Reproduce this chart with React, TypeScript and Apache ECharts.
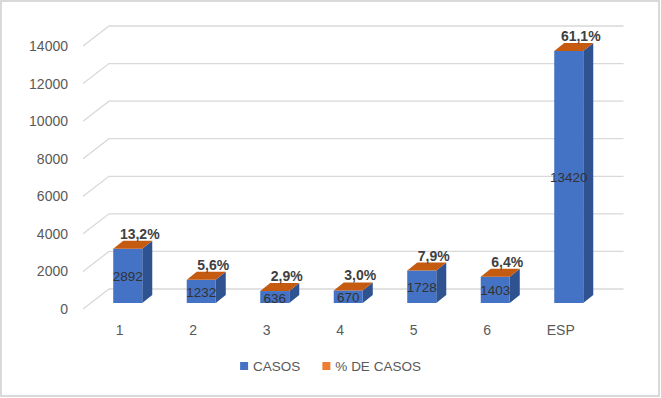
import React, { useEffect, useRef } from "react";
import * as echarts from "echarts";

const categories = ["1", "2", "3", "4", "5", "6", "ESP"];
const casos = [2892, 1232, 636, 670, 1728, 1403, 13420];
const pctCasos = [0.132, 0.056, 0.029, 0.03, 0.079, 0.064, 0.611];
const pctLabels = ["13,2%", "5,6%", "2,9%", "3,0%", "7,9%", "6,4%", "61,1%"];
const yTicks = [0, 2000, 4000, 6000, 8000, 10000, 12000, 14000];

const FRONT = "#4472c4";
const SIDE = "#2f5290";
const TOP = "#c55a11";
const ORANGE = "#ed7d31";
const GRID = "#d9d9d9";

// depth geometry (pixels)
const WALL_DX = 26;
const WALL_DY = -20;
const BAR_OFF_X = 8;
const BAR_OFF_Y = -6;
const BAR_DX = 10;
const BAR_DY = -8;

export default function App() {
  const ref = useRef<HTMLDivElement>(null);
  useEffect(() => {
    if (!ref.current) return;
    const chart = echarts.init(ref.current, undefined, { renderer: "svg" });
    const font = "'Liberation Sans', Arial, sans-serif";

    const option: any = {
      animation: false,
      backgroundColor: "#ffffff",
      textStyle: { fontFamily: font },
      grid: { left: 83, right: 63.5, top: 46, bottom: 89 },
      xAxis: {
        type: "category",
        data: categories,
        axisLine: { show: false },
        axisTick: { show: false },
        axisLabel: { color: "#595959", fontSize: 14, margin: 14, fontFamily: font },
        splitLine: { show: false },
      },
      yAxis: {
        type: "value",
        min: 0,
        max: 14000,
        interval: 2000,
        axisLine: { show: false },
        axisTick: { show: false },
        splitLine: { show: false },
        axisLabel: {
          color: "#595959",
          fontSize: 14,
          margin: 15,
          fontFamily: font,
          formatter: (v: number) => String(v),
        },
      },
      legend: {
        data: [
          { name: "CASOS", icon: "rect", itemStyle: { color: FRONT } },
          { name: "% DE CASOS", icon: "rect", itemStyle: { color: ORANGE } },
        ],
        bottom: 20,
        left: "center",
        itemWidth: 8,
        itemHeight: 8,
        itemGap: 22,
        textStyle: { color: "#595959", fontSize: 13.5, fontFamily: font },
      },
      graphic: [
        {
          type: "rect",
          shape: { x: 1, y: 1, width: 658, height: 395 },
          style: { fill: "none", stroke: GRID, lineWidth: 2 },
          silent: true,
        },
      ],
      series: [
        {
          name: "gridlines",
          type: "custom",
          silent: true,
          z: 1,
          data: yTicks.map((v) => [0, v]),
          renderItem: (params: any, api: any) => {
            const cs = params.coordSys;
            const y = api.coord([0, api.value(1)])[1];
            const x0 = cs.x;
            const x1 = cs.x + cs.width;
            return {
              type: "polyline",
              shape: {
                points: [
                  [x0, y],
                  [x0 + WALL_DX, y + WALL_DY],
                  [x1 + WALL_DX, y + WALL_DY],
                ],
              },
              style: { stroke: GRID, lineWidth: 1.3, fill: "none" },
            };
          },
        },
        {
          name: "CASOS",
          type: "custom",
          z: 2,
          itemStyle: { color: FRONT },
          data: casos.map((v, i) => [i, v]),
          renderItem: (params: any, api: any) => {
            const i = api.value(0);
            const v = api.value(1);
            const base = api.coord([i, 0]);
            const top = api.coord([i, v]);
            const band = api.size([1, 0])[0];
            const w = band * 0.395;
            const xl = base[0] + BAR_OFF_X - w / 2;
            const xr = xl + w;
            const yb = base[1] + BAR_OFF_Y;
            const yt = top[1] + BAR_OFF_Y;
            return {
              type: "group",
              children: [
                {
                  type: "polygon",
                  shape: {
                    points: [
                      [xr, yt],
                      [xr + BAR_DX, yt + BAR_DY],
                      [xr + BAR_DX, yb + BAR_DY],
                      [xr, yb],
                    ],
                  },
                  style: { fill: SIDE },
                },
                {
                  type: "rect",
                  shape: { x: xl, y: yt, width: w, height: yb - yt },
                  style: { fill: FRONT },
                },
                {
                  type: "text",
                  x: (xl + xr) / 2,
                  y: (yt + yb) / 2 + 1,
                  style: {
                    text: String(v),
                    fill: "#333333",
                    font: `13.5px ${font}`,
                    align: "center",
                    verticalAlign: "middle",
                  },
                },
              ],
            };
          },
        },
        {
          name: "% DE CASOS",
          type: "custom",
          z: 3,
          itemStyle: { color: ORANGE },
          data: casos.map((v, i) => [i, v + pctCasos[i], pctCasos[i]]),
          renderItem: (params: any, api: any) => {
            const i = api.value(0);
            const v = api.value(1);
            const top = api.coord([i, v]);
            const band = api.size([1, 0])[0];
            const w = band * 0.395;
            const xl = top[0] + BAR_OFF_X - w / 2;
            const xr = xl + w;
            const yt = top[1] + BAR_OFF_Y;
            return {
              type: "group",
              children: [
                {
                  type: "polygon",
                  shape: {
                    points: [
                      [xl, yt],
                      [xr, yt],
                      [xr + BAR_DX, yt + BAR_DY],
                      [xl + BAR_DX, yt + BAR_DY],
                    ],
                  },
                  style: { fill: TOP },
                },
                {
                  type: "text",
                  x: (xl + xr) / 2 + 12,
                  y: yt - 15,
                  style: {
                    text: pctLabels[i],
                    fill: "#404040",
                    font: `bold 14px ${font}`,
                    align: "center",
                    verticalAlign: "middle",
                  },
                },
              ],
            };
          },
        },
      ],
    };
    chart.setOption(option);
    return () => chart.dispose();
  }, []);

  return (
    <div
      ref={ref}
      style={{ position: "absolute", left: 0, top: 0, width: 661, height: 398 }}
    />
  );
}
